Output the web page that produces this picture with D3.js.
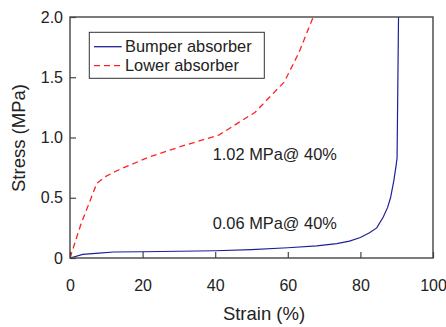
<!DOCTYPE html>
<html>
<head>
<meta charset="utf-8">
<script src="https://cdn.jsdelivr.net/npm/d3@7"></script>
<style>
  body { margin: 0; background: #fff; }
  text { font-family: "Liberation Sans", Arial, sans-serif; fill: #222; }
</style>
</head>
<body>
<div id="chart"></div>
<script>
// strain (%) / stress (MPa)
var bumperStrain = [0, 3.5, 8, 12, 20, 30, 40, 50, 60, 68, 73.5, 77, 80, 82.5, 84.5, 86.3, 87.5, 88.3, 89.2, 89.8, 90.1, 90.3, 90.5];
var bumperStress = [0, 0.03, 0.04, 0.05, 0.052, 0.056, 0.06, 0.07, 0.085, 0.1, 0.12, 0.14, 0.17, 0.21, 0.25, 0.34, 0.42, 0.5, 0.64, 0.76, 0.83, 1.4, 2.0];

var lowerStrain = [0, 3, 7.4, 10, 14, 22, 31, 41, 51, 59, 63, 67];
var lowerStress = [0, 0.28, 0.62, 0.68, 0.74, 0.84, 0.93, 1.02, 1.21, 1.46, 1.7, 2.0];

var xTicks = [0, 20, 40, 60, 80, 100];
var yTicks = [0, 0.5, 1.0, 1.5, 2.0];
var yTickLabels = ["0", "0.5", "1.0", "1.5", "2.0"];

var seriesNames = ["Bumper absorber", "Lower absorber"];
var notes = [{x: 40, y: 1.02, label: "1.02 MPa@ 40%"}, {x: 40, y: 0.06, label: "0.06 MPa@ 40%"}];

var W = 446, H = 327;
var margin = {top: 17, right: 13, bottom: 69, left: 70};
var width = W - margin.left - margin.right;
var height = H - margin.top - margin.bottom;

var svg = d3.select("#chart").append("svg")
    .attr("width", W)
    .attr("height", H);

var g = svg.append("g")
    .attr("transform", "translate(" + margin.left + "," + margin.top + ")");

var x = d3.scaleLinear().domain([0, 100]).range([0, width]);
var y = d3.scaleLinear().domain([0, 2]).range([height, 0]);

// clip so curves stop at the frame
g.append("clipPath").attr("id", "clip")
    .append("rect").attr("width", width).attr("height", height);

var line = d3.line()
    .x(function(d) { return x(d[0]); })
    .y(function(d) { return y(d[1]); });

var bumper = bumperStrain.map(function(s, i) { return [s, bumperStress[i]]; });
var lower = lowerStrain.map(function(s, i) { return [s, lowerStress[i]]; });

g.append("path")
    .datum(lower)
    .attr("clip-path", "url(#clip)")
    .attr("fill", "none")
    .attr("stroke", "#ff2222")
    .attr("stroke-width", 1.3)
    .attr("stroke-dasharray", "6,4")
    .attr("d", line);

g.append("path")
    .datum(bumper)
    .attr("clip-path", "url(#clip)")
    .attr("fill", "none")
    .attr("stroke", "#1f1f9a")
    .attr("stroke-width", 1.2)
    .attr("d", line);

// axes
var xAxis = d3.axisBottom(x).tickValues(xTicks).tickSizeInner(-6).tickSizeOuter(0).tickPadding(22);
var yAxis = d3.axisLeft(y).tickValues(yTicks).tickSizeInner(-6).tickSizeOuter(0).tickPadding(7)
    .tickFormat(function(d, i) { return yTickLabels[i]; });

var gx = g.append("g")
    .attr("transform", "translate(0," + height + ")")
    .call(xAxis);
var gy = g.append("g").call(yAxis);

[gx, gy].forEach(function(a) {
    a.select(".domain").remove();
    a.selectAll(".tick line").attr("stroke", "#444").attr("stroke-width", 1.2);
    a.selectAll(".tick text")
        .style("font-family", "Liberation Sans, Arial, sans-serif")
        .style("font-size", "16px")
        .attr("fill", "#222");
});

// frame
g.append("rect")
    .attr("width", width)
    .attr("height", height)
    .attr("fill", "none")
    .attr("stroke", "#444")
    .attr("stroke-width", 1.4);

// axis titles
svg.append("text")
    .attr("x", 264)
    .attr("y", 320)
    .attr("text-anchor", "middle")
    .style("font-size", "18.5px")
    .text("Strain (%)");

svg.append("text")
    .attr("transform", "translate(25,138) rotate(-90)")
    .attr("text-anchor", "middle")
    .style("font-size", "18.5px")
    .text("Stress (MPa)");

// annotations
notes.forEach(function(n, i) {
    g.append("text")
        .attr("x", x(n.x) - 2.5)
        .attr("y", i === 0 ? y(n.y) + 25 : y(n.y) - 22)
        .style("font-size", "16.4px")
        .text(n.label);
});

// legend
var legend = g.append("g").attr("transform", "translate(19.3,15.3)");
legend.append("rect")
    .attr("width", 175)
    .attr("height", 46)
    .attr("fill", "#fff")
    .attr("stroke", "#333")
    .attr("stroke-width", 1);

var legendStyles = [{stroke: "#1f1f9a", dash: null}, {stroke: "#ff2222", dash: "6,4"}];
seriesNames.forEach(function(name, i) {
    var row = legend.append("g").attr("transform", "translate(0," + (14.4 + i * 19) + ")");
    row.append("line")
        .attr("x1", 4.7).attr("x2", 32.4)
        .attr("stroke", legendStyles[i].stroke)
        .attr("stroke-width", 1.3)
        .attr("stroke-dasharray", legendStyles[i].dash);
    row.append("text")
        .attr("x", 35.7)
        .attr("dy", "0.35em")
        .style("font-size", "16.4px")
        .text(name);
});
</script>
</body>
</html>
